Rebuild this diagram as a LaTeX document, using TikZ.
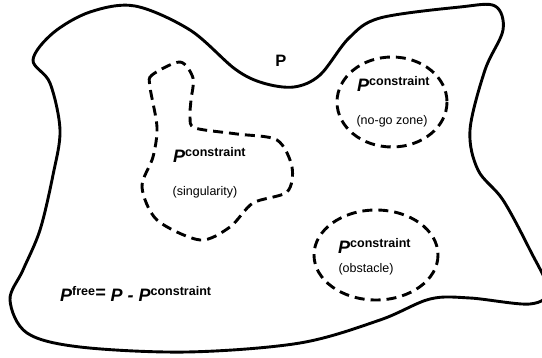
\documentclass[tikz,border=0pt]{standalone}
\usepackage{fontspec}
\setmainfont{Liberation Sans}
\usetikzlibrary{positioning}
\definecolor{ink}{HTML}{000000}
\tikzset{
  region/.style={ink, line width=2.9pt, line join=round},
  zone/.style={ink, line width=2.9pt, dash pattern=on 10pt off 6pt},
  pname/.style={ink, inner sep=0pt, anchor=base west, font=\fontsize{18}{18}\selectfont\bfseries\itshape},
  pnote/.style={ink, inner sep=0pt, font=\fontsize{12.5}{14}\selectfont}
}
\newcommand{\supbox}[1]{\raisebox{6pt}{\fontsize{12.5}{12.5}\selectfont\bfseries\upshape #1}}

\begin{document}
\begin{tikzpicture}[x=1pt,y=-1pt]
        \useasboundingbox (0,0) rectangle (542,358);
        \clip (0,0) rectangle (542,358);
        % whole set P
        \draw[region] plot[smooth cycle, tension=0.55] coordinates {(33,60) (53,33) (90,12) (135,6) (190,30) (235,69) (263,83) (294,87) (320,75) (349,38) (380,18) (460,7) (495,6) (503,30) (485,70) (470,130) (478,170) (503,200) (530,250) (548,290) (530,304) (470,298) (430,299) (380,320) (300,343) (187,352) (80,347) (27,333) (10,300) (23,270) (40,230) (53,175) (60,130) (50,83)};
        \node[ink, inner sep=0pt, font=\fontsize{16.5}{16.5}\selectfont\bfseries] (pset) at (281,61) {P};
        % constraint regions
        \draw[zone] (392,102) ellipse [x radius=55, y radius=45];
        \draw[zone] (376,255) ellipse [x radius=62, y radius=45];
        \draw[zone] plot[smooth cycle, tension=0.5] coordinates {(180,62) (152,75) (150,87) (157,127) (153,157) (142,187) (157,220) (200,240) (230,227) (253,203) (287,192) (292,167) (277,140) (237,134) (195,128) (190,117) (191,100) (193,78)};
        \node[pname] (nogo) at (357,92) {P\supbox{constraint}};
        \node[pnote] (nogotxt) at (392,121) {(no-go zone)};
        \node[pname] (sing) at (173,163) {P\supbox{constraint}};
        \node[pnote] (singtxt) at (205,192) {(singularity)};
        \node[pname] (obst) at (338,254) {P\supbox{constraint}};
        \node[pnote] (obsttxt) at (366,269) {(obstacle)};
        % free part
        \node[pname] (freeeq) at (60,302) {P\supbox{free}\raisebox{3pt}{=} P - P\supbox{constraint}};
      \end{tikzpicture}
\end{document}
